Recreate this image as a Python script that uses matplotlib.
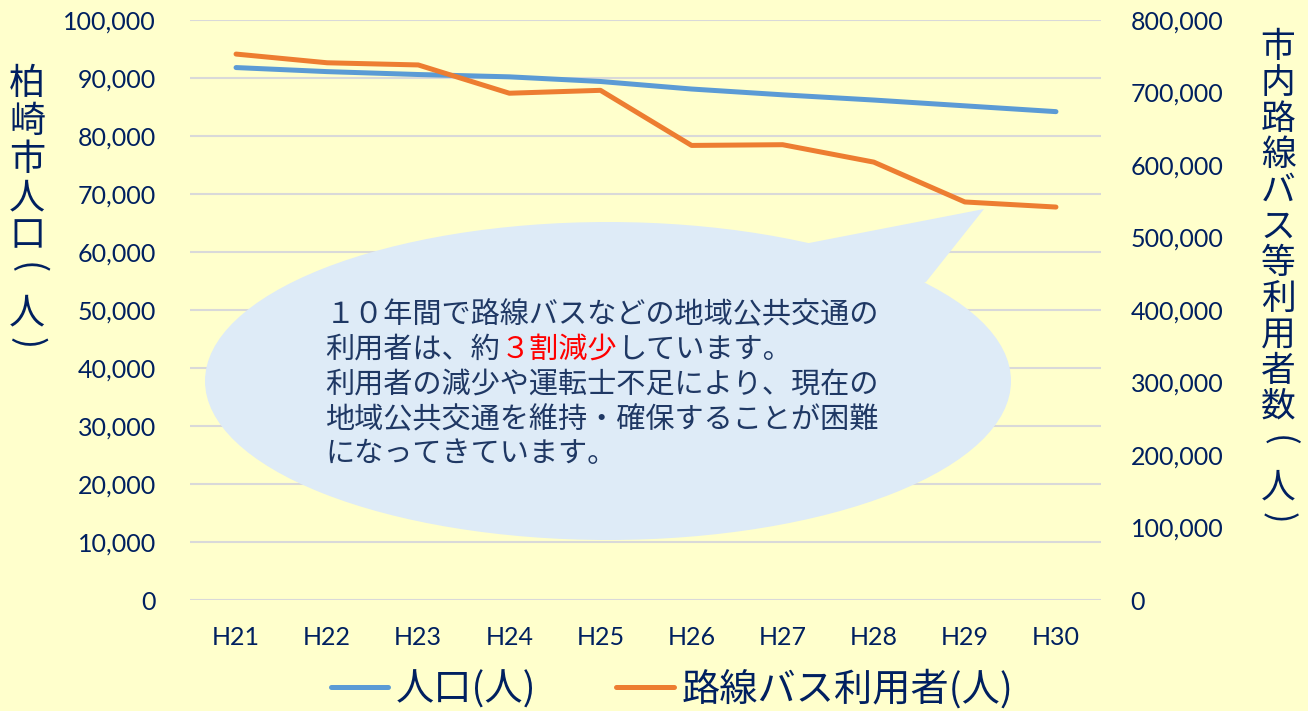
import matplotlib
matplotlib.use('Agg')
import matplotlib.pyplot as plt
from matplotlib.patches import Ellipse, Polygon
from matplotlib.ticker import FuncFormatter, MultipleLocator
from matplotlib.lines import Line2D

years = ['H21', 'H22', 'H23', 'H24', 'H25', 'H26', 'H27', 'H28', 'H29', 'H30']
population = [91800, 91100, 90600, 90200, 89400, 88100, 87100, 86200, 85200, 84200]
bus_users = [753000, 741000, 738000, 699000, 703000, 627000, 628000, 604000, 549000, 542000]

left_label = '柏崎市人口(人)'
right_label = '市内路線バス等利用者数(人)'
legend_labels = ['人口(人)', '路線バス利用者(人)']
note_lines = ['１０年間で路線バスなどの地域公共交通の',
              None,
              '利用者の減少や運転士不足により、現在の',
              '地域公共交通を維持・確保することが困難',
              'になってきています。']
note_line2 = ['利用者は、約', '３割減少', 'しています。']

BG = '#FFFFCC'
NAVY = '#002060'
TXT = '#1F3864'
BLUE = '#5B9BD5'
ORANGE = '#ED7D31'
JP = 'Noto Sans CJK JP'
W, H = 1308, 711

def fx(x):
    return x / W

def fy(y):
    return 1 - y / H

fig = plt.figure(figsize=(W / 100, H / 100), dpi=100, facecolor=BG)
ax = fig.add_axes([fx(190.5), 111 / H, 911 / W, 580 / H])
ax.set_facecolor(BG)
ax2 = ax.twinx()

x = list(range(len(years)))
ax.plot(x, population, color=BLUE, lw=3.6, solid_capstyle='round', zorder=3)
ax2.plot(x, bus_users, color=ORANGE, lw=3.6, solid_capstyle='round', zorder=3)

ax.set_xlim(-0.5, len(years) - 0.5)
ax.set_ylim(0, 100000)
ax2.set_ylim(0, 800000)
ax.yaxis.set_major_locator(MultipleLocator(10000))
ax2.yaxis.set_major_locator(MultipleLocator(100000))
fmt = FuncFormatter(lambda v, p: f'{int(v):,}')
ax.yaxis.set_major_formatter(fmt)
ax2.yaxis.set_major_formatter(fmt)
ax.set_xticks(x, years)
ax.grid(axis='y', color='#D9D9D9', lw=1.5, zorder=1)

for a in (ax, ax2):
    for s in a.spines.values():
        s.set_visible(False)
    a.tick_params(length=0, labelsize=18, labelcolor=NAVY)
    for lab in a.get_xticklabels() + a.get_yticklabels():
        lab.set_family('Lato')
ax.tick_params(axis='y', pad=25)
ax.tick_params(axis='x', pad=19)
ax2.tick_params(axis='y', pad=21)

# speech bubble
ell = Ellipse((fx(608), fy(381)), 806 / W, 318 / H, transform=fig.transFigure,
              facecolor='#DEEBF7', edgecolor='none', zorder=2, clip_on=False)
tail = Polygon([(fx(800), fy(260)), (fx(809), fy(243)), (fx(984), fy(209)),
                (fx(926), fy(282)), (fx(880), fy(300))], closed=True,
               transform=fig.transFigure, facecolor='#DEEBF7', edgecolor='none',
               zorder=2, clip_on=False)
ax.add_patch(ell)
ax.add_patch(tail)

fs = 21
em = fs * 100 / 72
ys = [315, 350, 385, 420, 454]
for line, yy in zip(note_lines, ys):
    if line is not None:
        fig.text(fx(325.5), fy(yy), line, fontsize=fs, color=TXT, va='center', family=JP)
x0 = 325.5
for part, col in zip(note_line2, [TXT, '#FF0000', TXT]):
    fig.text(fx(x0), fy(ys[1]), part, fontsize=fs, color=col, va='center', family=JP)
    x0 += len(part) * em

# vertical axis titles (one character per row, brackets turned sideways)
def vertical_title(chars, xc, ypos, size):
    for ch, yy in zip(chars, ypos):
        rot = -90 if ch in '()' else 0
        fig.text(fx(xc), fy(yy), ch, fontsize=size, color=NAVY, rotation=rot,
                 ha='center', va='center', family=JP)

vertical_title(left_label, 27, [84, 122, 160, 198, 236, 268, 313, 343], 26)
vertical_title(right_label, 1278, [47 + 36 * i for i in range(11)] + [441, 488, 518], 25)

handles = [Line2D([], [], color=BLUE, lw=3.6, solid_capstyle='round'),
           Line2D([], [], color=ORANGE, lw=3.6, solid_capstyle='round')]
leg = fig.legend(handles, legend_labels, loc='center', ncol=2,
                 bbox_to_anchor=(fx(672), fy(690)), frameon=False,
                 prop={'family': JP, 'size': 27.5}, handlelength=1.5,
                 handletextpad=0.2, columnspacing=2.1, borderpad=0)
for t in leg.get_texts():
    t.set_color(NAVY)

fig.savefig('out.png', dpi=100, facecolor=BG)
